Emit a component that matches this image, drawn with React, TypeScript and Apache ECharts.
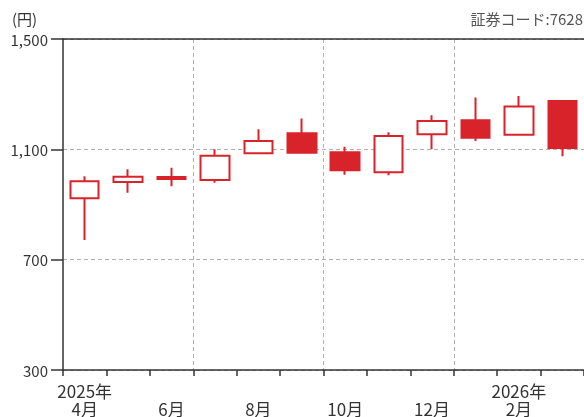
import React, { useEffect, useRef } from "react";
import * as echarts from "echarts";

const months = ["2025-04", "2025-05", "2025-06", "2025-07", "2025-08", "2025-09", "2025-10", "2025-11", "2025-12", "2026-01", "2026-02", "2026-03"];
const tickLabels = ["2025年\n4月", "", " \n6月", "", " \n8月", "", " \n10月", "", " \n12月", "", "2026年\n2月", ""];
const opens = [923, 982, 1000, 989, 1086, 1158, 1089, 1017, 1155, 1205, 1153, 1275];
const closes = [984, 1001, 992, 1077, 1130, 1088, 1024, 1148, 1203, 1142, 1255, 1105];
const lows = [771, 943, 966, 979, 1086, 1086, 1008, 1006, 1100, 1130, 1149, 1075];
const highs = [1002, 1028, 1033, 1100, 1173, 1212, 1109, 1162, 1224, 1288, 1293, 1275];
const yTicks = [300, 700, 1100, 1500];
const unitLabel = "(円)";
const codeLabel = "証券コード:7628";

const RED = "#d9232a";
const FONT = "'Noto Sans CJK JP', 'Noto Sans', sans-serif";

export default function App() {
  const ref = useRef<HTMLDivElement>(null);
  useEffect(() => {
    if (!ref.current) return;
    const chart = echarts.init(ref.current, undefined, { renderer: "svg" });
    const data = months.map((_, i) => [opens[i], closes[i], lows[i], highs[i]]);
    chart.setOption({
      animation: false,
      textStyle: { fontFamily: FONT },
      grid: { left: 63, right: -1, top: 39, bottom: 47 },
      graphic: [
        { type: "text", left: 12, top: 11, style: { text: unitLabel, fontSize: 15, fill: "#333", fontFamily: FONT } },
        { type: "text", right: 1, top: 11, style: { text: codeLabel, fontSize: 15, fill: "#555", fontFamily: FONT } },
      ],
      xAxis: [
        {
          type: "category",
          data: months,
          boundaryGap: true,
          axisLine: { show: true, lineStyle: { color: "#333", width: 1.5 } },
          axisTick: { show: true, length: 6, interval: 0, lineStyle: { color: "#333", width: 1.5 } },
          axisLabel: {
            interval: 0,
            margin: 11,
            fontSize: 17,
            lineHeight: 18,
            color: "#333",
            fontFamily: FONT,
            formatter: (_v: string, i: number) => tickLabels[i],
          },
          splitLine: {
            show: true,
            interval: (i: number) => i > 0 && i % 3 === 0,
            lineStyle: { color: "#b0b0b0", type: [4, 3], width: 1 },
          },
        },
        {
          type: "category",
          data: months,
          position: "top",
          axisLine: { show: true, lineStyle: { color: "#333", width: 1.5 } },
          axisTick: { show: false },
          axisLabel: { show: false },
          splitLine: { show: false },
        },
      ],
      yAxis: {
        type: "value",
        min: 300,
        max: 1500,
        interval: 400,
        axisLine: { show: true, lineStyle: { color: "#333", width: 1.5 } },
        axisTick: { show: true, length: 12, lineStyle: { color: "#333", width: 1.5 } },
        axisLabel: {
          margin: 15,
          fontSize: 15,
          color: "#333",
          fontFamily: FONT,
          formatter: (v: number) => (yTicks.includes(v) ? v.toLocaleString("en-US") : ""),
        },
        splitLine: { show: true, lineStyle: { color: "#b0b0b0", type: [4, 3], width: 1 } },
      },
      series: [
        {
          type: "candlestick",
          xAxisIndex: 0,
          data,
          barWidth: 29,
          itemStyle: {
            color: "#ffffff",
            color0: RED,
            borderColor: RED,
            borderColor0: RED,
            borderWidth: 2,
          },
        },
      ],
    });
    return () => chart.dispose();
  }, []);
  return <div ref={ref} style={{ position: "fixed", left: 0, top: 0, width: 584, height: 417 }} />;
}
